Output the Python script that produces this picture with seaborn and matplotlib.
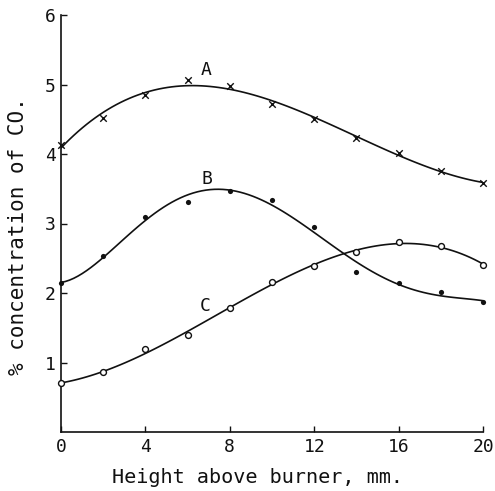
import matplotlib
matplotlib.use("Agg")
import matplotlib.pyplot as plt
import seaborn as sns

# Height above burner (mm) and % CO at each height for the three flames
height = [0, 2, 4, 6, 8, 10, 12, 14, 16, 18, 20]
co_a = [4.13, 4.52, 4.85, 5.07, 4.98, 4.72, 4.50, 4.23, 4.01, 3.76, 3.58]
co_b = [2.14, 2.53, 3.09, 3.31, 3.47, 3.34, 2.95, 2.30, 2.14, 2.01, 1.87]
co_c = [0.70, 0.86, 1.19, 1.40, 1.78, 2.16, 2.39, 2.59, 2.73, 2.68, 2.40]

x_ticks = [0, 4, 8, 12, 16, 20]
y_ticks = [1, 2, 3, 4, 5, 6]

sns.set_theme(style="ticks")
plt.rcParams["font.family"] = ["DejaVu Sans Mono", "DejaVu Sans"]

fig = plt.figure(figsize=(4.95, 4.91), dpi=100)
ax = fig.add_axes([61 / 495, 1 - 432 / 491, (483 - 61) / 495, (432 - 15) / 491])

ink = "#111111"
series = [
    (co_a, 3, dict(marker="x", s=22, color=ink, linewidths=1.0)),
    (co_b, 5, dict(marker="o", s=14, color=ink, linewidths=0)),
    (co_c, 3, dict(marker="o", s=18, facecolors="white", edgecolors=ink, linewidths=1.0)),
]
for vals, order, mk in series:
    sns.regplot(x=height, y=vals, order=order, ci=None, scatter=False,
                line_kws=dict(color=ink, lw=1.2), truncate=True, ax=ax)
    pts = ax.scatter(height, vals, zorder=3, **mk)
    pts.set_clip_on(False)

for lbl, xx, yy in [("A", 6.9, 5.21), ("B", 6.9, 3.64), ("C", 6.85, 1.81)]:
    ax.text(xx, yy, lbl, fontsize=13, color=ink, ha="center", va="center")

ax.set_xlim(0, 20)
ax.set_ylim(0, 6)
ax.set_xticks(x_ticks)
ax.set_yticks(y_ticks)
ax.tick_params(direction="in", length=4, width=1, colors=ink, labelsize=13, pad=4)
for sp in ["left", "bottom"]:
    ax.spines[sp].set_linewidth(1.2)
    ax.spines[sp].set_color(ink)
sns.despine(ax=ax)

ax.set_xlabel("Height above burner, mm.", fontsize=14.5, color=ink)
ax.xaxis.set_label_coords((258 - 61) / (483 - 61), -(468 - 432) / (432 - 15))
ax.set_ylabel("% concentration of CO.", fontsize=15, color=ink)
ax.yaxis.set_label_coords(-(61 - 28) / (483 - 61), (432 - 236) / (432 - 15))

fig.savefig("out.png", dpi=100)
